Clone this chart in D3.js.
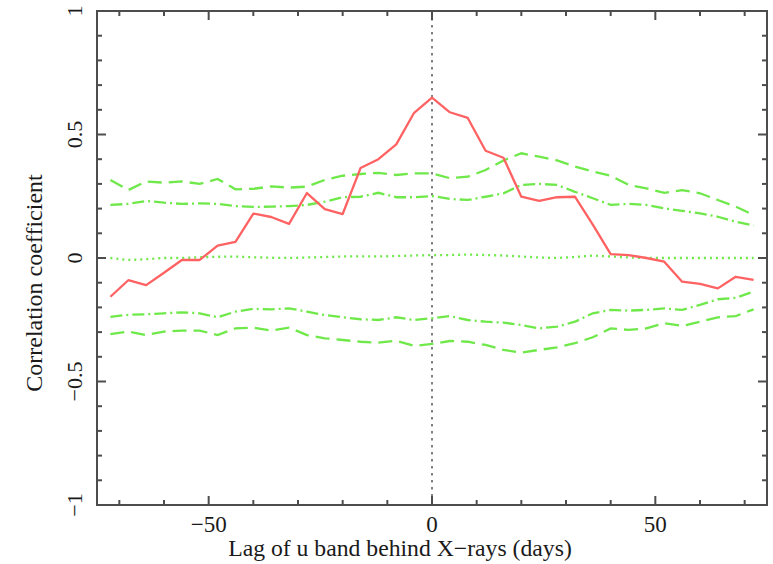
<!DOCTYPE html>
<html lang='en'>
<head>
<meta charset='UTF-8'>
<script src='https://d3js.org/d3.v7.min.js'></script>
<style>
  body { margin: 0; background: white; }
  text { font-family: 'Liberation Serif', 'DejaVu Serif', serif; fill: #1a1a1a; }
</style>
</head>
<body>
<div id='chart'></div>
<script>
// lags in days, step 4
var lags = [-72,-68,-64,-60,-56,-52,-48,-44,-40,-36,-32,-28,-24,-20,-16,-12,-8,-4,0,
            4,8,12,16,20,24,28,32,36,40,44,48,52,56,60,64,68,72];

var ccf = [-0.157,-0.09,-0.11,-0.06,-0.008,-0.008,0.05,0.065,0.18,0.166,0.138,0.263,0.198,0.178,0.364,0.40,0.46,0.588,0.649,
           0.59,0.567,0.434,0.406,0.248,0.231,0.246,0.248,0.135,0.016,0.012,0.0,-0.015,-0.096,-0.105,-0.123,-0.076,-0.089];

var upper2 = [0.316,0.275,0.31,0.305,0.31,0.30,0.32,0.278,0.28,0.29,0.285,0.289,0.316,0.333,0.34,0.345,0.336,0.343,0.343,
              0.323,0.329,0.356,0.395,0.424,0.41,0.395,0.37,0.35,0.333,0.296,0.282,0.264,0.275,0.262,0.235,0.208,0.174];

var upper1 = [0.215,0.219,0.231,0.224,0.219,0.221,0.219,0.21,0.207,0.208,0.21,0.215,0.228,0.246,0.248,0.264,0.246,0.246,0.251,
              0.239,0.235,0.248,0.262,0.296,0.30,0.296,0.268,0.242,0.215,0.219,0.215,0.201,0.191,0.181,0.167,0.147,0.131];

var middle = [0.0,-0.008,-0.005,0.0,0.0,0.003,0.005,0.006,0.003,0.001,0.0,0.002,0.004,0.006,0.007,0.006,0.008,0.01,0.012,
              0.012,0.014,0.012,0.01,0.006,0.002,0.0,0.004,0.01,0.006,0.002,0.0,0.0,0.0,0.0,0.0,0.0,0.0];

var lower1 = [-0.238,-0.23,-0.228,-0.224,-0.22,-0.224,-0.24,-0.217,-0.206,-0.208,-0.204,-0.217,-0.231,-0.24,-0.248,-0.251,-0.24,-0.251,-0.244,
              -0.235,-0.251,-0.258,-0.262,-0.271,-0.285,-0.278,-0.258,-0.224,-0.21,-0.213,-0.21,-0.204,-0.21,-0.19,-0.167,-0.161,-0.136];

var lower2 = [-0.308,-0.298,-0.312,-0.298,-0.294,-0.294,-0.312,-0.285,-0.282,-0.294,-0.282,-0.312,-0.325,-0.332,-0.339,-0.343,-0.335,-0.356,-0.348,
              -0.336,-0.339,-0.352,-0.372,-0.383,-0.372,-0.362,-0.345,-0.321,-0.285,-0.291,-0.285,-0.264,-0.275,-0.258,-0.24,-0.235,-0.208];

var xTicks = [-50, 0, 50];
var yTicks = [-1, -0.5, 0, 0.5, 1];

var W = 773, H = 564;
var pLeft = 97, pRight = 767, pTop = 11, pBottom = 505;

var svg = d3.select('#chart').append('svg')
   .attr('width', W)
   .attr('height', H);

var x = d3.scaleLinear().domain([-75, 75]).range([pLeft, pRight]);
var y = d3.scaleLinear().domain([-1, 1]).range([pBottom, pTop]);

var green = '#6fe84a';
var red = '#ff6262';

// vertical dotted line at zero lag
svg.append('line')
   .attr('x1', x(0)).attr('x2', x(0))
   .attr('y1', pTop).attr('y2', pBottom)
   .attr('stroke', '#808080')
   .attr('stroke-width', 2)
   .attr('stroke-dasharray', '2.5,4.5');

var line = function(vals){
   return d3.line()
      .x(function(d, i){ return x(lags[i]); })
      .y(function(d){ return y(d); })(vals);
};

var series = [
   {v: upper2, dash: '14,7'},
   {v: upper1, dash: '12,4,2,4'},
   {v: middle, dash: '2,4'},
   {v: lower1, dash: '12,4,2,4'},
   {v: lower2, dash: '14,7'}
];

series.forEach(function(s){
   svg.append('path')
      .attr('d', line(s.v))
      .attr('fill', 'none')
      .attr('stroke', green)
      .attr('stroke-width', 2.3)
      .attr('stroke-dasharray', s.dash);
});

svg.append('path')
   .attr('d', line(ccf))
   .attr('fill', 'none')
   .attr('stroke', red)
   .attr('stroke-width', 2.3)
   .attr('stroke-linejoin', 'round');

// frame
svg.append('rect')
   .attr('x', pLeft).attr('y', pTop)
   .attr('width', pRight - pLeft).attr('height', pBottom - pTop)
   .attr('fill', 'none')
   .attr('stroke', '#4d4d4d')
   .attr('stroke-width', 2);

// ticks, inward on all four sides
var axColor = '#4d4d4d';
d3.range(-70, 71, 10).forEach(function(t){
   var len = (t % 50 === 0) ? 9 : 5;
   svg.append('line').attr('x1', x(t)).attr('x2', x(t)).attr('y1', pBottom).attr('y2', pBottom - len)
      .attr('stroke', axColor).attr('stroke-width', 2);
   svg.append('line').attr('x1', x(t)).attr('x2', x(t)).attr('y1', pTop).attr('y2', pTop + len)
      .attr('stroke', axColor).attr('stroke-width', 2);
});
d3.range(-10, 11, 1).forEach(function(k){
   var t = k / 10;
   var len = (k % 5 === 0) ? 9 : 5;
   svg.append('line').attr('x1', pLeft).attr('x2', pLeft + len).attr('y1', y(t)).attr('y2', y(t))
      .attr('stroke', axColor).attr('stroke-width', 2);
   svg.append('line').attr('x1', pRight).attr('x2', pRight - len).attr('y1', y(t)).attr('y2', y(t))
      .attr('stroke', axColor).attr('stroke-width', 2);
});

var fmt = function(v){ return (v < 0 ? '\u2212' : '') + Math.abs(v); };

svg.selectAll('.xlab').data(xTicks).enter().append('text')
   .attr('x', function(d){ return x(d); })
   .attr('y', 532)
   .attr('text-anchor', 'middle')
   .attr('font-size', 23)
   .text(fmt);

svg.selectAll('.ylab').data(yTicks).enter().append('text')
   .attr('transform', function(d){ return 'translate(82,' + y(d) + ') rotate(-90)'; })
   .attr('text-anchor', 'middle')
   .attr('font-size', 22)
   .text(fmt);

svg.append('text')
   .attr('x', 400)
   .attr('y', 556)
   .attr('text-anchor', 'middle')
   .attr('font-size', 23.7)
   .text('Lag of u band behind X\u2212rays (days)');

svg.append('text')
   .attr('transform', 'translate(42,283) rotate(-90)')
   .attr('text-anchor', 'middle')
   .attr('font-size', 24)
   .text('Correlation coefficient');
</script>
</body>
</html>
